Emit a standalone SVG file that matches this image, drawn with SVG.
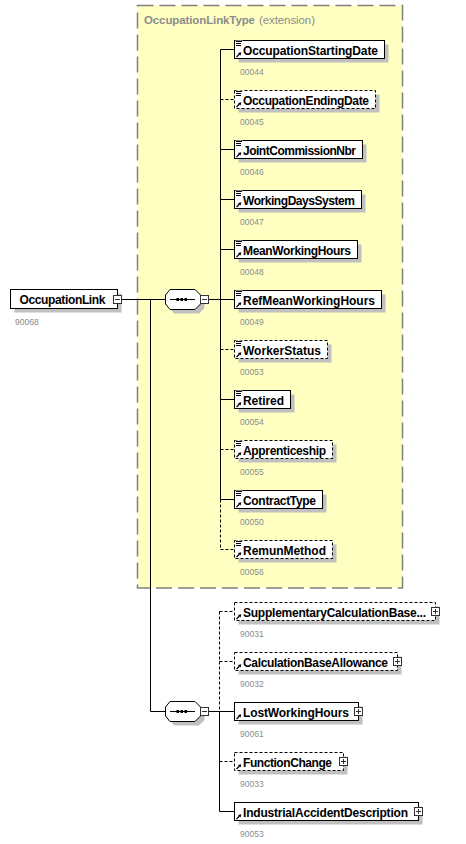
<svg xmlns="http://www.w3.org/2000/svg" xmlns:xlink="http://www.w3.org/1999/xlink" width="466" height="844" viewBox="0 0 466 844">
<style>
.box{fill:#fff;stroke:#000;stroke-width:1}
.opt{stroke-dasharray:3,2}
.sh{fill:#c0c0c0}
.lbl{font-family:"Liberation Sans",Arial,sans-serif;font-weight:bold;font-size:12px;fill:#000}
.num{font-family:"Liberation Sans",Arial,sans-serif;font-size:8.5px;fill:#8c8c8c}
.ttl{font-family:"Liberation Sans",Arial,sans-serif;font-size:11.5px;fill:#8c8c8c}
.ln{fill:none;stroke:#000;stroke-width:1}
.dl{fill:none;stroke:#000;stroke-width:1;stroke-dasharray:3,2}
.pm{fill:#fff;stroke:#333;stroke-width:1}
.pml{fill:none;stroke:#333;stroke-width:1}
</style>
<defs>
<g id="eq">
<rect x="1" y="0" width="7" height="6" fill="#fff"/>
<path d="M1.5 1H7.5M1.5 3H6.5M1.5 5H6.5" stroke="#000" stroke-width="1" fill="none"/>
</g>
<g id="arr">
<rect x="1" y="11" width="6" height="6" fill="#fff"/>
<path d="M2 16.5L5 13.5" stroke="#000" stroke-width="1.2" fill="none"/>
<polygon points="6.8,11.7 3.4,12.4 6.1,15.1" fill="#000"/>
</g>
<polygon id="oct" points="170,289.5 195,289.5 200.5,295 200.5,304 195,309.5 170,309.5 165.5,304 165.5,295"/>
<g id="octin">
<path d="M170 299.5H195" stroke="#000" stroke-width="1"/>
<rect x="176.5" y="298" width="2.5" height="3" fill="#000"/>
<rect x="180.5" y="298" width="2.5" height="3" fill="#000"/>
<rect x="184.5" y="298" width="2.5" height="3" fill="#000"/>
</g>
</defs>

<g id="extension">
<rect x="137.5" y="5.5" width="265" height="582.5" fill="#ffffc2" stroke="#808080" stroke-width="1.5" stroke-dasharray="16,6"/>
<text class="ttl" x="144" y="24" font-weight="bold" textLength="111">OccupationLinkType</text>
<text class="ttl" x="259" y="24" textLength="56">(extension)</text>
</g>

<g id="connectors">
<path class="ln" d="M122 299.5H165.5"/>
<path class="ln" d="M150.5 299.5V711.5H165.5"/>
<path class="ln" d="M208.5 299.5H234.5"/>
<path class="ln" d="M220.5 49.5V499.5"/>
<path class="dl" d="M220.5 499.5V549.5"/>
<path class="ln" d="M220.5 49.5H234.5"/>
<path class="dl" d="M220.5 99.5H234.5"/>
<path class="ln" d="M220.5 149.5H234.5"/>
<path class="ln" d="M220.5 199.5H234.5"/>
<path class="ln" d="M220.5 249.5H234.5"/>
<path class="dl" d="M220.5 349.5H234.5"/>
<path class="ln" d="M220.5 399.5H234.5"/>
<path class="dl" d="M220.5 449.5H234.5"/>
<path class="ln" d="M220.5 499.5H234.5"/>
<path class="dl" d="M220.5 549.5H234.5"/>
<path class="ln" d="M208.5 711.5H234.5"/>
<path class="dl" d="M219.5 611.5V711.5"/>
<path class="ln" d="M219.5 711.5V811.5"/>
<path class="dl" d="M219.5 611.5H234.5"/>
<path class="dl" d="M219.5 661.5H234.5"/>
<path class="dl" d="M219.5 761.5H234.5"/>
<path class="ln" d="M219.5 811.5H234.5"/>
</g>

<g id="OccupationLink">
<rect class="sh" x="14.5" y="293.5" width="107" height="19"/>
<rect class="box" x="10.5" y="289.5" width="107" height="19"/>
<text class="lbl" x="19.5" y="304" textLength="86">OccupationLink</text>
<rect class="pm" x="113.5" y="295.5" width="8" height="8"/>
<path class="pml" d="M115 299.5H120"/>
<text class="num" x="15" y="324.5">90068</text>
</g>

<g id="sequence1">
<use xlink:href="#oct" href="#oct" class="sh" transform="translate(4,4)"/>
<use xlink:href="#oct" href="#oct" class="box"/>
<use xlink:href="#octin" href="#octin"/>
<rect class="pm" x="200.5" y="295.5" width="8" height="8"/>
<path class="pml" d="M202 299.5H207"/>
</g>

<g id="OccupationStartingDate">
<rect class="sh" x="238.5" y="44.5" width="150" height="18"/>
<rect class="box" x="234.5" y="40.5" width="150" height="18"/>
<use href="#eq" xlink:href="#eq" x="234.5" y="40.5"/><use href="#arr" xlink:href="#arr" x="234.5" y="40.5"/>
<text class="lbl" x="243" y="54.5" textLength="135">OccupationStartingDate</text>
<text class="num" x="240" y="74.5">00044</text>
</g>
<g id="OccupationEndingDate">
<rect class="sh" x="238.5" y="94.5" width="141" height="18"/>
<rect class="box opt" x="234.5" y="90.5" width="141" height="18"/>
<use href="#eq" xlink:href="#eq" x="234.5" y="90.5"/><use href="#arr" xlink:href="#arr" x="234.5" y="90.5"/>
<text class="lbl" x="243" y="104.5" textLength="126">OccupationEndingDate</text>
<text class="num" x="240" y="124.5">00045</text>
</g>
<g id="JointCommissionNbr">
<rect class="sh" x="238.5" y="144.5" width="128" height="18"/>
<rect class="box" x="234.5" y="140.5" width="128" height="18"/>
<use href="#eq" xlink:href="#eq" x="234.5" y="140.5"/><use href="#arr" xlink:href="#arr" x="234.5" y="140.5"/>
<text class="lbl" x="243" y="154.5" textLength="113">JointCommissionNbr</text>
<text class="num" x="240" y="174.5">00046</text>
</g>
<g id="WorkingDaysSystem">
<rect class="sh" x="238.5" y="194.5" width="127" height="18"/>
<rect class="box" x="234.5" y="190.5" width="127" height="18"/>
<use href="#eq" xlink:href="#eq" x="234.5" y="190.5"/><use href="#arr" xlink:href="#arr" x="234.5" y="190.5"/>
<text class="lbl" x="243" y="204.5" textLength="112">WorkingDaysSystem</text>
<text class="num" x="240" y="224.5">00047</text>
</g>
<g id="MeanWorkingHours">
<rect class="sh" x="238.5" y="244.5" width="123" height="18"/>
<rect class="box" x="234.5" y="240.5" width="123" height="18"/>
<use href="#eq" xlink:href="#eq" x="234.5" y="240.5"/><use href="#arr" xlink:href="#arr" x="234.5" y="240.5"/>
<text class="lbl" x="243" y="254.5" textLength="108">MeanWorkingHours</text>
<text class="num" x="240" y="274.5">00048</text>
</g>
<g id="RefMeanWorkingHours">
<rect class="sh" x="238.5" y="294.5" width="147" height="18"/>
<rect class="box" x="234.5" y="290.5" width="147" height="18"/>
<use href="#eq" xlink:href="#eq" x="234.5" y="290.5"/><use href="#arr" xlink:href="#arr" x="234.5" y="290.5"/>
<text class="lbl" x="243" y="304.5" textLength="132">RefMeanWorkingHours</text>
<text class="num" x="240" y="324.5">00049</text>
</g>
<g id="WorkerStatus">
<rect class="sh" x="238.5" y="344.5" width="93" height="18"/>
<rect class="box opt" x="234.5" y="340.5" width="93" height="18"/>
<use href="#eq" xlink:href="#eq" x="234.5" y="340.5"/><use href="#arr" xlink:href="#arr" x="234.5" y="340.5"/>
<text class="lbl" x="243" y="354.5" textLength="78">WorkerStatus</text>
<text class="num" x="240" y="374.5">00053</text>
</g>
<g id="Retired">
<rect class="sh" x="238.5" y="394.5" width="56" height="18"/>
<rect class="box" x="234.5" y="390.5" width="56" height="18"/>
<use href="#eq" xlink:href="#eq" x="234.5" y="390.5"/><use href="#arr" xlink:href="#arr" x="234.5" y="390.5"/>
<text class="lbl" x="243" y="404.5" textLength="41">Retired</text>
<text class="num" x="240" y="424.5">00054</text>
</g>
<g id="Apprenticeship">
<rect class="sh" x="238.5" y="444.5" width="98" height="18"/>
<rect class="box opt" x="234.5" y="440.5" width="98" height="18"/>
<use href="#eq" xlink:href="#eq" x="234.5" y="440.5"/><use href="#arr" xlink:href="#arr" x="234.5" y="440.5"/>
<text class="lbl" x="243" y="454.5" textLength="83">Apprenticeship</text>
<text class="num" x="240" y="474.5">00055</text>
</g>
<g id="ContractType">
<rect class="sh" x="238.5" y="494.5" width="88" height="18"/>
<rect class="box" x="234.5" y="490.5" width="88" height="18"/>
<use href="#eq" xlink:href="#eq" x="234.5" y="490.5"/><use href="#arr" xlink:href="#arr" x="234.5" y="490.5"/>
<text class="lbl" x="243" y="504.5" textLength="73">ContractType</text>
<text class="num" x="240" y="524.5">00050</text>
</g>
<g id="RemunMethod">
<rect class="sh" x="238.5" y="544.5" width="98" height="18"/>
<rect class="box opt" x="234.5" y="540.5" width="98" height="18"/>
<use href="#eq" xlink:href="#eq" x="234.5" y="540.5"/><use href="#arr" xlink:href="#arr" x="234.5" y="540.5"/>
<text class="lbl" x="243" y="554.5" textLength="83">RemunMethod</text>
<text class="num" x="240" y="574.5">00056</text>
</g>

<g id="sequence2" transform="translate(0,412)">
<use xlink:href="#oct" href="#oct" class="sh" transform="translate(4,4)"/>
<use xlink:href="#oct" href="#oct" class="box"/>
<use xlink:href="#octin" href="#octin"/>
<rect class="pm" x="200.5" y="295.5" width="8" height="8"/>
<path class="pml" d="M202 299.5H207"/>
</g>

<g id="SupplementaryCalculationBase">
<rect class="sh" x="238.5" y="606.5" width="201" height="18"/>
<rect class="box opt" x="234.5" y="602.5" width="201" height="18"/>
<use href="#arr" xlink:href="#arr" x="234.5" y="602.5"/>
<text class="lbl" x="243" y="616.5" textLength="183">SupplementaryCalculationBase...</text>
<rect class="pm" x="431.5" y="607.5" width="8" height="8"/>
<path class="pml" d="M433 611.5H438M435.5 609V614"/>
<text class="num" x="240" y="636.5">90031</text>
</g>
<g id="CalculationBaseAllowance">
<rect class="sh" x="238.5" y="656.5" width="163" height="18"/>
<rect class="box opt" x="234.5" y="652.5" width="163" height="18"/>
<use href="#arr" xlink:href="#arr" x="234.5" y="652.5"/>
<text class="lbl" x="243" y="666.5" textLength="145">CalculationBaseAllowance</text>
<rect class="pm" x="393.5" y="657.5" width="8" height="8"/>
<path class="pml" d="M395 661.5H400M397.5 659V664"/>
<text class="num" x="240" y="686.5">90032</text>
</g>
<g id="LostWorkingHours">
<rect class="sh" x="238.5" y="706.5" width="124" height="18"/>
<rect class="box" x="234.5" y="702.5" width="124" height="18"/>
<use href="#arr" xlink:href="#arr" x="234.5" y="702.5"/>
<text class="lbl" x="243" y="716.5" textLength="106">LostWorkingHours</text>
<rect class="pm" x="354.5" y="707.5" width="8" height="8"/>
<path class="pml" d="M356 711.5H361M358.5 709V714"/>
<text class="num" x="240" y="736.5">90061</text>
</g>
<g id="FunctionChange">
<rect class="sh" x="238.5" y="756.5" width="109" height="18"/>
<rect class="box opt" x="234.5" y="752.5" width="109" height="18"/>
<use href="#arr" xlink:href="#arr" x="234.5" y="752.5"/>
<text class="lbl" x="243" y="766.5" textLength="89">FunctionChange</text>
<rect class="pm" x="339.5" y="757.5" width="8" height="8"/>
<path class="pml" d="M341 761.5H346M343.5 759V764"/>
<text class="num" x="240" y="786.5">90033</text>
</g>
<g id="IndustrialAccidentDescription">
<rect class="sh" x="238.5" y="806.5" width="184" height="18"/>
<rect class="box" x="234.5" y="802.5" width="184" height="18"/>
<use href="#arr" xlink:href="#arr" x="234.5" y="802.5"/>
<text class="lbl" x="243" y="816.5" textLength="165">IndustrialAccidentDescription</text>
<rect class="pm" x="414.5" y="807.5" width="8" height="8"/>
<path class="pml" d="M416 811.5H421M418.5 809V814"/>
<text class="num" x="240" y="836.5">90053</text>
</g>
</svg>
